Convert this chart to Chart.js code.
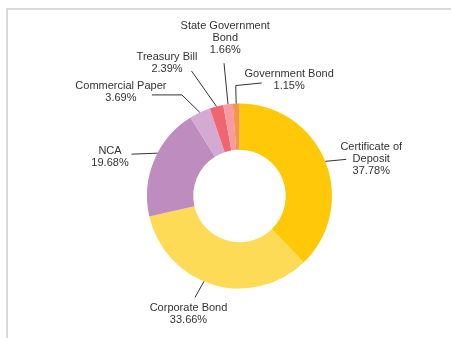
<!DOCTYPE html>
<html>
<head>
<meta charset="utf-8">
<script src="https://cdn.jsdelivr.net/npm/chart.js@4"></script>
<style>
    body { margin: 0; background: #fff; }
    #wrap { position: relative; width: 451px; height: 338px; }
</style>
</head>
<body>
<div id="wrap"><canvas id="donut-chart" width="451" height="338"></canvas></div>
<script>
// data
const categories = ["Certificate of Deposit", "Corporate Bond", "NCA", "Commercial Paper", "Treasury Bill", "State Government Bond", "Government Bond"];
const shares = [37.78, 33.66, 19.68, 3.69, 2.39, 1.66, 1.15];
const sliceColors = ["#FFC90A", "#FDDB57", "#BE8CBF", "#D4AAD3", "#EF6671", "#F49CA1", "#F79646"];

// label layout (text lines, leader bend points relative to slice anchor)
const labelLines = [
    ["Certificate of", "Deposit"],
    ["Corporate Bond"],
    ["NCA"],
    ["Commercial Paper"],
    ["Treasury Bill"],
    ["State Government", "Bond"],
    ["Government Bond"]
];
const anchorShift = [0, 6, 5, 0, 0, 0, 0]; // degrees
const leaderPoints = [
    [[21, -2]],
    [[-9, 16]],
    [[-26, 1]],
    [[-18, -17.5], [-48, -17.5]],
    [[-25, -35.5]],
    [[-4, -41]],
    [[-0.4, -18], [25.6, -20.6]]
];
const textOffset = [[46, -14.6], [-15.5, 27], [-47.5, -2], [-79, -26.4], [-49.5, -49.7], [-2.8, -78.2], [53, -29.6]];

const framePlugin = {
    id: "frame",
    beforeDraw(chart) {
        const ctx = chart.ctx;
        ctx.save();
        ctx.fillStyle = "#d9d9d9";
        ctx.fillRect(6, 8, 2, chart.height);
        ctx.fillRect(6, 8, chart.width, 2);
        ctx.restore();
    }
};

const labelPlugin = {
    id: "sliceLabels",
    afterDatasetsDraw(chart) {
        const ctx = chart.ctx;
        const meta = chart.getDatasetMeta(0);
        ctx.save();
        ctx.strokeStyle = "#333";
        ctx.lineWidth = 1;
        ctx.fillStyle = "#333";
        ctx.font = "11px 'Liberation Sans', Arial, sans-serif";
        ctx.textAlign = "center";
        ctx.textBaseline = "middle";
        meta.data.forEach((arc, i) => {
            const mid = (arc.startAngle + arc.endAngle) / 2 + anchorShift[i] * Math.PI / 180;
            const ax = arc.x + Math.cos(mid) * arc.outerRadius;
            const ay = arc.y + Math.sin(mid) * arc.outerRadius;
            ctx.beginPath();
            ctx.moveTo(ax, ay);
            leaderPoints[i].forEach(p => ctx.lineTo(ax + p[0], ay + p[1]));
            ctx.stroke();
            const lines = labelLines[i].concat([shares[i].toFixed(2) + "%"]);
            const tx = ax + textOffset[i][0];
            const ty = ay + textOffset[i][1];
            lines.forEach((line, j) => ctx.fillText(line, tx, ty + j * 12));
        });
        ctx.restore();
    }
};

const ctx = document.querySelector("#donut-chart");
const chart = new Chart(ctx, {
    type: "doughnut",
    data: {
        labels: categories,
        datasets: [{
            data: shares,
            backgroundColor: sliceColors,
            borderWidth: 0
        }]
    },
    options: {
        responsive: false,
        animation: false,
        cutout: "50%",
        layout: {
            padding: { left: 100, right: 72, top: 103.5, bottom: 49.5 }
        },
        plugins: {
            legend: { display: false },
            tooltip: { enabled: false }
        }
    },
    plugins: [framePlugin, labelPlugin]
});
</script>
</body>
</html>
